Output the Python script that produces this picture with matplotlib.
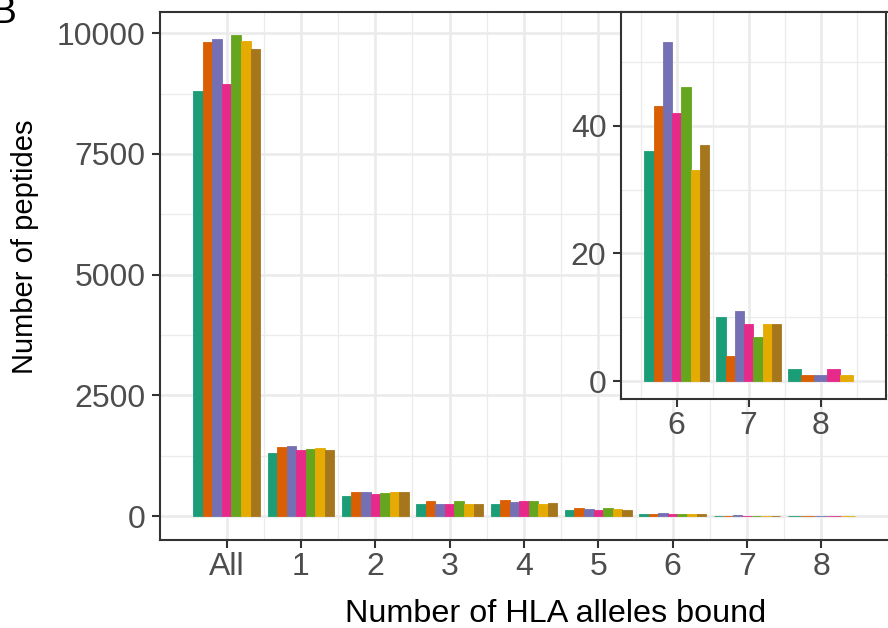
import matplotlib.pyplot as plt
from matplotlib.ticker import MultipleLocator, FixedLocator

plt.rcParams['font.family'] = ['Liberation Sans', 'DejaVu Sans']

# peptides per number of HLA alleles bound, one list per sample
categories = ['All', '1', '2', '3', '4', '5', '6', '7', '8']
series_a = [8800, 1300, 410, 245, 245, 120, 36, 10, 2]
series_b = [9810, 1425, 490, 305, 325, 160, 43, 4, 1]
series_c = [9875, 1445, 490, 245, 285, 140, 53, 11, 1]
series_d = [8940, 1365, 450, 245, 305, 120, 42, 9, 2]
series_e = [9958, 1385, 470, 305, 305, 160, 46, 7, None]
series_f = [9835, 1405, 490, 245, 245, 140, 33, 9, 1]
series_g = [9670, 1365, 490, 245, 265, 120, 37, 9, None]

all_series = [series_a, series_b, series_c, series_d, series_e, series_f, series_g]
colors = ['#1B9E77', '#D95F02', '#7570B3', '#E7298A', '#66A61E', '#E6AB02', '#A6761D']

inset_cats = ['6', '7', '8']

W, H = 888, 628
fig = plt.figure(figsize=(W / 100, H / 100), dpi=100)


def fx(px):
    return px / W


def fy(px):
    return 1 - px / H


def dodge_bars(ax, cat_idx, x_offset=0):
    # ggplot-style dodge: present bars share 0.9 of the slot
    for ci in cat_idx:
        present = [(s, c) for s, c in zip(all_series, colors) if s[ci] is not None]
        n = len(present)
        w = 0.9 / n
        for k, (s, c) in enumerate(present):
            x = ci - x_offset - 0.45 + w * (k + 0.5)
            ax.bar(x, s[ci], width=w, color=c, edgecolor=c, linewidth=0.6, zorder=3)


def style_axes(ax, spine_w=1.5):
    ax.set_facecolor('white')
    for sp in ax.spines.values():
        sp.set_color('#333333')
        sp.set_linewidth(spine_w)
        sp.set_zorder(5)
    ax.grid(which='major', color='#EBEBEB', linewidth=1.9, zorder=0)
    ax.grid(which='minor', color='#EBEBEB', linewidth=0.9, zorder=0)
    ax.tick_params(which='major', length=5.5, width=1.5, color='#333333',
                   labelsize=23, labelcolor='#4D4D4D')
    ax.tick_params(which='minor', length=0)
    ax.tick_params(axis='y', pad=5)
    ax.tick_params(axis='x', pad=3)


# main panel
ax = fig.add_axes([fx(160), fy(540), fx(888) - fx(160), fy(12) - fy(540)])
dodge_bars(ax, range(len(categories)))
ax.set_xlim(-0.896, 8.896)
ax.set_ylim(-497, 10441)
ax.set_xticks(range(len(categories)))
ax.set_xticklabels(categories)
ax.xaxis.set_minor_locator(FixedLocator([i + 0.5 for i in range(8)]))
ax.yaxis.set_major_locator(MultipleLocator(2500))
ax.yaxis.set_minor_locator(FixedLocator([1250, 3750, 6250, 8750]))
style_axes(ax)
ax.spines['right'].set_visible(False)

fig.text(fx(556), fy(622), 'Number of HLA alleles bound', fontsize=23.3,
         color='black', ha='center', va='baseline')
fig.text(fx(25), fy(247), 'Number of peptides', fontsize=21, color='black',
         rotation=90, ha='center', va='center')

# inset zoom on 6-8 alleles
axi = fig.add_axes([fx(621), fy(399), fx(886) - fx(621), fy(12) - fy(399)])
dodge_bars(axi, [6, 7, 8], x_offset=6)
axi.set_xlim(-0.774, 2.907)
axi.set_ylim(-2.75, 57.75)
axi.set_xticks([0, 1, 2])
axi.set_xticklabels(inset_cats)
axi.xaxis.set_minor_locator(FixedLocator([-0.5, 0.5, 1.5, 2.5]))
axi.yaxis.set_major_locator(FixedLocator([0, 20, 40]))
axi.yaxis.set_minor_locator(FixedLocator([10, 30, 50]))
style_axes(axi)

fig.text(fx(-9), fy(23), 'B', fontsize=28, color='black', va='baseline', ha='left')

fig.savefig('out.png', dpi=100)
